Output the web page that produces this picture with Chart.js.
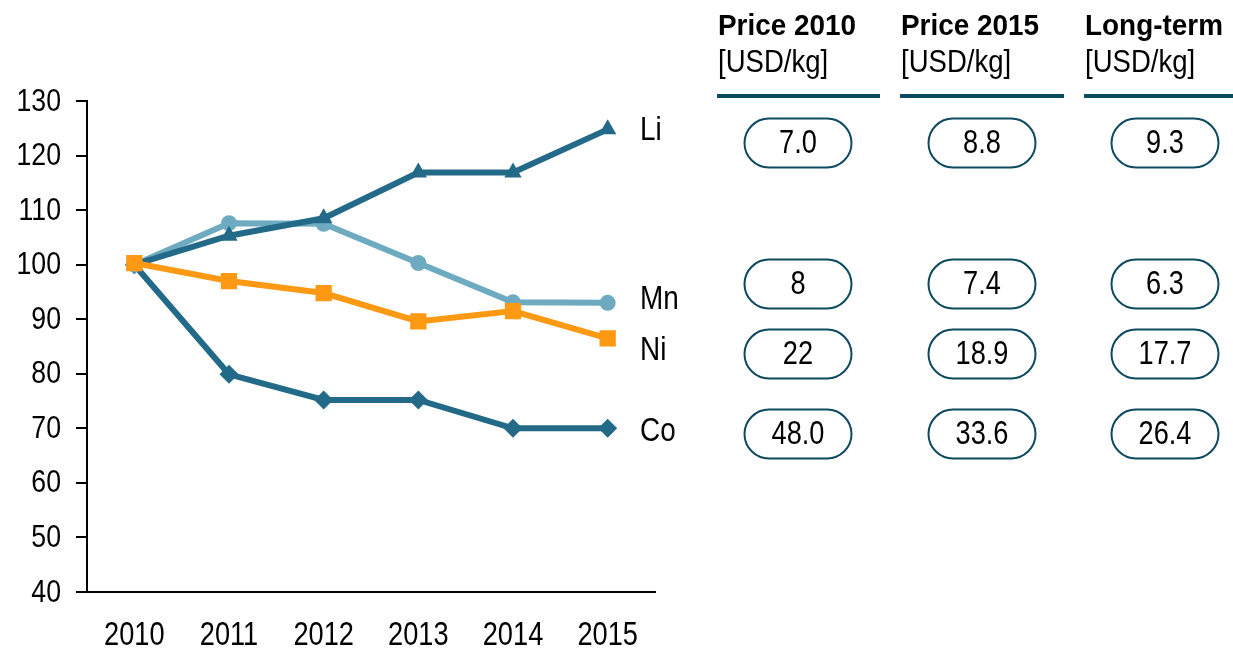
<!DOCTYPE html>
<html>
<head>
<meta charset="utf-8">
<script src="https://cdn.jsdelivr.net/npm/chart.js@4"></script>
<style>
  body { margin: 0; background: #fff; }
  #wrap { width: 1233px; height: 650px; position: relative; }
</style>
</head>
<body>
<div id="wrap"><canvas id="metalChart" width="1233" height="650"></canvas></div>
<script>
// chart data
const years = ["2010", "2011", "2012", "2013", "2014", "2015"];
const liValues = [100, 105.3, 108.5, 116.9, 116.9, 124.8];
const mnValues = [100, 107.6, 107.5, 100.3, 93.1, 93];
const niValues = [100.3, 97, 94.8, 89.6, 91.5, 86.5];
const coValues = [100, 79.9, 75.2, 75.2, 70, 70];
const yTicks = [40, 50, 60, 70, 80, 90, 100, 110, 120, 130];

// price table
const tableHeaders = ["Price 2010", "Price 2015", "Long-term"];
const tableUnit = "[USD/kg]";
const priceLi = ["7.0", "8.8", "9.3"];
const priceMn = ["8", "7.4", "6.3"];
const priceNi = ["22", "18.9", "17.7"];
const priceCo = ["48.0", "33.6", "26.4"];

const DARK = "#236a88";
const LIGHT = "#6eabc1";
const ORANGE = "#fd9912";
const RULE = "#0d4a60";
const FONT = "'Liberation Sans', Arial, sans-serif";

// layout (pixels)
const rowY = [143, 284, 354, 434];
const colX = [798, 982, 1165];
const ruleSpans = [[717, 880], [900, 1064], [1084, 1233]];

const series = [
    { label: "Ni", data: niValues, color: ORANGE, style: "rect", radius: 11.5, nudge: 12 },
    { label: "Li", data: liValues, color: DARK, style: "triangle", radius: 10, nudge: 1 },
    { label: "Mn", data: mnValues, color: LIGHT, style: "circle", radius: 8, nudge: -3 },
    { label: "Co", data: coValues, color: DARK, style: "rectRot", radius: 9.5, nudge: 3 }
];

// narrow-looking text: squeeze the regular face horizontally
function narrowText(ctx, text, x, y, size, squeeze, align, weight) {
    ctx.save();
    ctx.font = (weight || "") + " " + size + "px " + FONT;
    ctx.textAlign = align;
    ctx.textBaseline = "middle";
    ctx.translate(x, y);
    ctx.scale(squeeze, 1);
    ctx.fillText(text, 0, 0);
    ctx.restore();
}

// tick labels, end labels and the price table
const extrasPlugin = {
    id: "extras",
    afterDraw(chart) {
        const ctx = chart.ctx;
        const xs = chart.scales.x, ys = chart.scales.y;
        ctx.save();
        ctx.fillStyle = "#000";

        yTicks.forEach(v => narrowText(ctx, String(v), 61, ys.getPixelForValue(v) + 1, 31, 0.86, "right"));
        years.forEach((y, i) => narrowText(ctx, y, xs.getPixelForValue(i), 636, 34, 0.8, "center"));

        series.forEach((s, i) => {
            const pts = chart.getDatasetMeta(i).data;
            const last = pts[pts.length - 1];
            narrowText(ctx, s.label, 640, last.y + s.nudge, 34, 0.82, "left");
        });

        // headers
        tableHeaders.forEach((h, c) => {
            const x0 = ruleSpans[c][0] + 1;
            narrowText(ctx, h, x0, 27, 30, 0.93, "left", "bold");
            narrowText(ctx, tableUnit, x0, 63, 32, 0.86, "left");
            ctx.fillStyle = RULE;
            ctx.fillRect(ruleSpans[c][0], 94, ruleSpans[c][1] - ruleSpans[c][0], 4);
            ctx.fillStyle = "#000";
        });

        // pills
        const rows = [priceLi, priceMn, priceNi, priceCo];
        const w = 107, h = 49;
        rows.forEach((vals, r) => {
            vals.forEach((v, c) => {
                const cx = colX[c], cy = rowY[r];
                ctx.beginPath();
                ctx.roundRect(cx - w / 2, cy - h / 2, w, h, h / 2);
                ctx.lineWidth = 2;
                ctx.strokeStyle = RULE;
                ctx.stroke();
                narrowText(ctx, v, cx, cy + 1, 34, 0.8, "center");
            });
        });
        ctx.restore();
    }
};

document.addEventListener("DOMContentLoaded", function () {
    const ctx = document.getElementById("metalChart").getContext("2d");

    new Chart(ctx, {
        type: "line",
        data: {
            labels: years,
            datasets: series.map(s => ({
                label: s.label,
                data: s.data,
                borderColor: s.color,
                backgroundColor: s.color,
                borderWidth: 6,
                pointStyle: s.style,
                pointRadius: s.radius,
                pointBorderWidth: 0,
                tension: 0
            }))
        },
        options: {
            responsive: false,
            animation: false,
            layout: { padding: { top: 101, right: 578, left: 0, bottom: 0 } },
            plugins: {
                legend: { display: false },
                tooltip: { enabled: false }
            },
            scales: {
                x: {
                    offset: true,
                    grid: { display: false },
                    border: { display: true, color: "#000", width: 2 },
                    ticks: { color: "rgba(0,0,0,0)", font: { family: FONT, size: 30 } },
                    afterFit: s => { s.height = 58; }
                },
                y: {
                    min: 40,
                    max: 130,
                    afterBuildTicks: s => { s.ticks = yTicks.map(v => ({ value: v })); },
                    grid: { drawOnChartArea: false, tickLength: 11, color: "#000", lineWidth: 2 },
                    border: { display: true, color: "#000", width: 2 },
                    ticks: { color: "rgba(0,0,0,0)", font: { family: FONT, size: 30 } },
                    afterFit: s => { s.width = 87; }
                }
            }
        },
        plugins: [extrasPlugin]
    });
});
</script>
</body>
</html>
